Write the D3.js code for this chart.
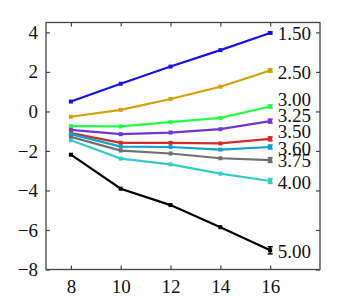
<!DOCTYPE html>
<html><head><meta charset="utf-8">
<script src="https://cdn.jsdelivr.net/npm/d3@7"></script>
<style>body{margin:0;background:#fff}svg{display:block}svg text{font-family:"Liberation Serif","Times New Roman",serif !important}</style>
</head><body>
<script>
const xValues = [8, 10, 12, 14, 16];
const seriesNames = ["1.50","2.50","3.00","3.25","3.50","3.60","3.75","4.00","5.00"];
const colors = ["#1414e6","#d4a00a","#22ff44","#7236d6","#d42a2a","#10a2cc","#707070","#36cbc4","#000000"];
const s150 = [0.50, 1.40, 2.27, 3.10, 3.97];
const s250 = [-0.27, 0.08, 0.63, 1.25, 2.07];
const s300 = [-0.74, -0.76, -0.54, -0.33, 0.25];
const s325 = [-0.93, -1.15, -1.07, -0.90, -0.49];
const s350 = [-1.10, -1.59, -1.59, -1.62, -1.39];
const s360 = [-1.15, -1.78, -1.80, -1.93, -1.80];
const s375 = [-1.29, -1.98, -2.13, -2.37, -2.46];
const s400 = [-1.46, -2.39, -2.68, -3.15, -3.52];
const s500 = [-2.19, -3.91, -4.74, -5.86, -7.03];
const seriesValues = [s150, s250, s300, s325, s350, s360, s375, s400, s500];
const lastErr = [0.05, 0.08, 0.08, 0.10, 0.10, 0.10, 0.12, 0.12, 0.18];
const labelPos = [3.97, 1.97, 0.62, -0.22, -1.03, -1.85, -2.5, -3.6, -7.08];
const yTicks = [4, 2, 0, -2, -4, -6, -8];
const xTicks = [8, 10, 12, 14, 16];

const W = 353, H = 303;
const svg = d3.select("body").append("svg").attr("width", W).attr("height", H);
const x = d3.scaleLinear().domain([7, 18]).range([46, 320]);
const y = d3.scaleLinear().domain([-8, 4.5]).range([269.5, 22.5]);
const font = "'Liberation Serif', 'Times New Roman', serif";
const axisCol = "#444";

svg.append("rect").attr("x", x(7)).attr("y", y(4.5)).attr("width", x(18)-x(7)).attr("height", y(-8)-y(4.5))
  .attr("fill", "none").attr("stroke", axisCol).attr("stroke-width", 1.3);

const gLeft = svg.append("g").attr("transform", `translate(${x(7)},0)`)
  .call(d3.axisLeft(y).tickValues(yTicks).tickSizeInner(-4).tickSizeOuter(0).tickPadding(8)
    .tickFormat(d => d < 0 ? "\u2212" + Math.abs(d) : d));
const gRight = svg.append("g").attr("transform", `translate(${x(18)},0)`)
  .call(d3.axisRight(y).tickValues(yTicks).tickSizeInner(-4).tickSizeOuter(0).tickFormat(""));
const gBottom = svg.append("g").attr("transform", `translate(0,${y(-8)})`)
  .call(d3.axisBottom(x).tickValues(xTicks).tickSizeInner(-4).tickSizeOuter(0).tickPadding(10));
const gTop = svg.append("g").attr("transform", `translate(0,${y(4.5)})`)
  .call(d3.axisTop(x).tickValues(xTicks).tickSizeInner(-4).tickSizeOuter(0).tickFormat(""));
[gLeft, gRight, gBottom, gTop].forEach(g => {
  g.attr("font-family", font);
  g.select(".domain").remove();
  g.selectAll("line").attr("stroke", axisCol).attr("stroke-width", 1.2);
  g.selectAll("text").attr("font-family", font).attr("font-size", 19).attr("fill", "#111");
});

const line = d3.line().x((d, i) => x(xValues[i])).y(d => y(d));

seriesValues.forEach((vals, k) => {
  const c = colors[k];
  svg.append("path").datum(vals).attr("d", line).attr("fill", "none")
    .attr("stroke", c).attr("stroke-width", 2.2);
  svg.selectAll(null).data(vals).enter().append("rect")
    .attr("x", (d, i) => x(xValues[i]) - 2).attr("y", d => y(d) - 2)
    .attr("width", 4).attr("height", 4).attr("fill", c);
  const lv = vals[vals.length - 1], e = lastErr[k], xe = x(xValues[vals.length - 1]);
  const eb = svg.append("g").attr("stroke", c).attr("stroke-width", 1.6);
  eb.append("line").attr("x1", xe).attr("x2", xe).attr("y1", y(lv + e)).attr("y2", y(lv - e));
  eb.append("line").attr("x1", xe - 2.5).attr("x2", xe + 2.5).attr("y1", y(lv + e)).attr("y2", y(lv + e));
  eb.append("line").attr("x1", xe - 2.5).attr("x2", xe + 2.5).attr("y1", y(lv - e)).attr("y2", y(lv - e));
  svg.append("text").attr("x", x(16.3)).attr("y", y(labelPos[k])).attr("dy", "0.35em")
    .attr("font-family", font).attr("font-size", 19).attr("fill", "#111").text(seriesNames[k]);
});
</script>
</body></html>
